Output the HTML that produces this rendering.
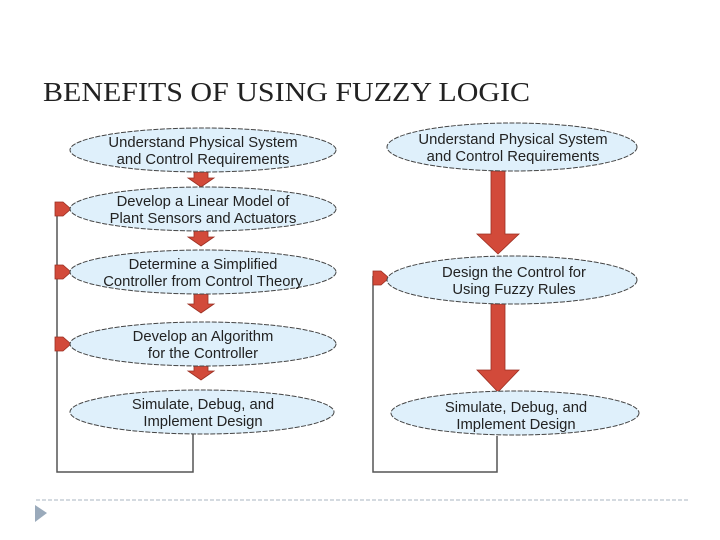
<!DOCTYPE html>
<html><head><style>body{margin:0;background:#fff}svg{display:block}</style></head><body>
<svg width="720" height="540" viewBox="0 0 720 540" xmlns="http://www.w3.org/2000/svg">
<text x="43" y="101" font-family="Liberation Serif, serif" font-size="27" fill="#222" textLength="487" lengthAdjust="spacingAndGlyphs">BENEFITS OF USING FUZZY LOGIC</text>
<g fill="none" stroke="#555" stroke-width="1.5">
<polyline points="57,205 57,472 193,472 193,434"/>
<polyline points="373,276 373,472 497,472 497,436"/>
</g>
<g fill="#d24a3a" stroke="#9b2f22" stroke-width="0.8">
<path d="M194,172 h14 v6 h6 l-13,9 l-13,-9 h6z"/>
<path d="M194,231 h14 v6 h6 l-13,9 l-13,-9 h6z"/>
<path d="M194,294 h14 v10 h6 l-13,9 l-13,-9 h6z"/>
<path d="M194,366 h14 v5 h6 l-13,9 l-13,-9 h6z"/>
<path d="M55,202 h8 l8,7 l-8,7 h-8z"/>
<path d="M55,265 h8 l8,7 l-8,7 h-8z"/>
<path d="M55,337 h8 l8,7 l-8,7 h-8z"/>
<path d="M373,271 h8 l8,7 l-8,7 h-8z"/>
<path d="M491,171 h14 v63 h14 l-21,20 l-21,-20 h14z"/>
<path d="M491,304 h14 v66 h14 l-21,22 l-21,-22 h14z"/>
</g>
<g fill="#dff0fb" stroke="#444" stroke-width="1" stroke-dasharray="5,1.5">
<ellipse cx="203" cy="150" rx="133" ry="22"/>
<ellipse cx="203" cy="209" rx="133" ry="22"/>
<ellipse cx="203" cy="272" rx="133" ry="22"/>
<ellipse cx="203" cy="344" rx="133" ry="22"/>
<ellipse cx="202" cy="412" rx="132" ry="22"/>
<ellipse cx="512" cy="147" rx="125" ry="24"/>
<ellipse cx="512" cy="280" rx="125" ry="24"/>
<ellipse cx="515" cy="413" rx="124" ry="22"/>
</g>
<g font-family="Liberation Sans, sans-serif" font-size="14.8" fill="#222" text-anchor="middle">
<text x="203" y="147">Understand Physical System</text><text x="203" y="164">and Control Requirements</text>
<text x="203" y="206">Develop a Linear Model of</text><text x="203" y="223">Plant Sensors and Actuators</text>
<text x="203" y="269">Determine a Simplified</text><text x="203" y="286">Controller from Control Theory</text>
<text x="203" y="341">Develop an Algorithm</text><text x="203" y="358">for the Controller</text>
<text x="203" y="409">Simulate, Debug, and</text><text x="203" y="426">Implement Design</text>
<text x="513" y="144">Understand Physical System</text><text x="513" y="161">and Control Requirements</text>
<text x="514" y="277">Design the Control for</text><text x="514" y="294">Using Fuzzy Rules</text>
<text x="516" y="412">Simulate, Debug, and</text><text x="516" y="429">Implement Design</text>
</g>
<line x1="36" y1="500" x2="688" y2="500" stroke="#aab4c0" stroke-width="1" stroke-dasharray="4,2"/>
<path d="M35,505 L47,513 L35,522z" fill="#9aaabb"/>
</svg>
</body></html>
